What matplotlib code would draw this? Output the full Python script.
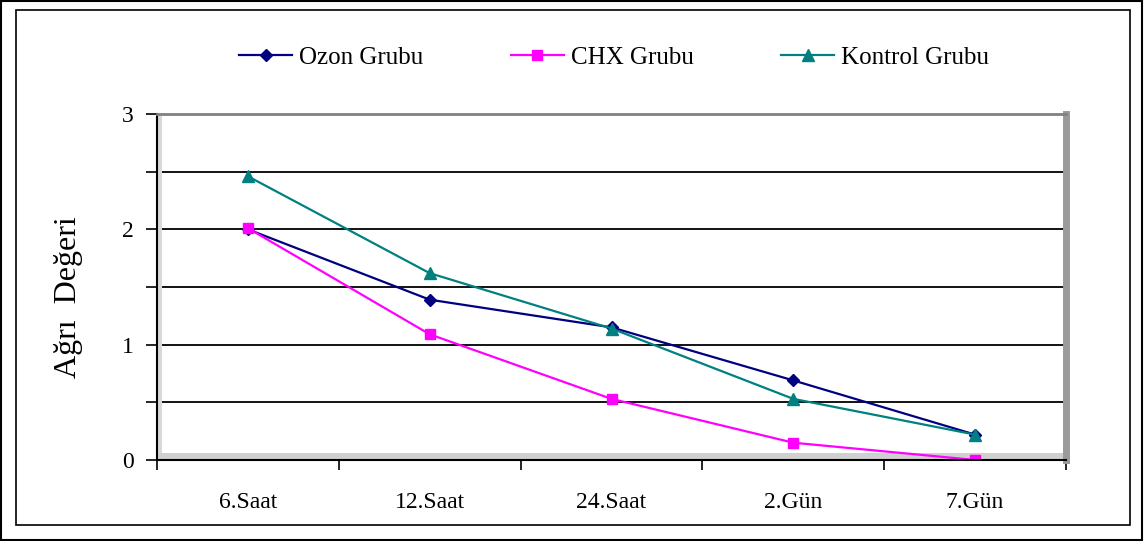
import matplotlib.pyplot as plt
from matplotlib.patches import Rectangle

categories = ["6.Saat", "12.Saat", "24.Saat", "2.Gün", "7.Gün"]
ozon = [2.00, 1.39, 1.15, 0.69, 0.22]
chx = [2.01, 1.09, 0.53, 0.15, 0.00]
kontrol = [2.46, 1.62, 1.14, 0.53, 0.22]

plt.rcParams['font.family'] = ['Liberation Serif', 'DejaVu Serif']

fig = plt.figure(figsize=(11.44, 5.41), dpi=100)
# outer double frame
fig.patches.append(Rectangle((0.001, 0.002), 0.997, 0.996, transform=fig.transFigure,
                             fill=False, edgecolor='black', lw=1.5))
fig.patches.append(Rectangle((16/1144, 16/541), 1114/1144, 515/541, transform=fig.transFigure,
                             fill=False, edgecolor='black', lw=1.2))

ax = fig.add_axes([157/1144, 81/541, 909/1144, 346/541])
x = list(range(len(categories)))

ax.plot(x, ozon, color='#000080', marker='D', markersize=6, lw=1.6, label='Ozon Grubu')
ax.plot(x, chx, color='#FF00FF', marker='s', markersize=7, lw=1.6, label='CHX Grubu')
ax.plot(x, kontrol, color='#008080', marker='^', markersize=8, lw=1.6, label='Kontrol Grubu')

ax.set_xlim(-0.5, 4.5)
ax.set_ylim(0, 3)
ax.set_yticks([0, 0.5, 1, 1.5, 2, 2.5, 3])
ax.set_yticklabels(['0', '', '1', '', '2', '', '3'], fontsize=17)
ax.set_xticks([-0.5, 0.5, 1.5, 2.5, 3.5, 4.5])
ax.set_xticklabels([])
ax.set_xticks(x, minor=True)
ax.set_xticklabels(categories, minor=True, fontsize=17)
ax.tick_params(axis='x', which='minor', length=0, pad=23)
ax.tick_params(axis='x', which='major', length=7, width=1.2, direction='out')
ax.tick_params(axis='y', length=8, width=1.2, direction='out', pad=9)

for yv in [0.5, 1, 1.5, 2, 2.5]:
    ax.axhline(yv, color='black', lw=1.3, zorder=0)

ax.spines['left'].set_linewidth(1.5)
ax.spines['bottom'].set_linewidth(1.5)
ax.spines['top'].set_color('#808080')
ax.spines['top'].set_linewidth(2)
ax.spines['right'].set_color('#9a9a9a')
ax.spines['right'].set_linewidth(5)
# inner shadow bands
ax.add_patch(Rectangle((-0.5, 0), 0.03, 3, color='#d8d8d8', lw=0, zorder=0))
ax.add_patch(Rectangle((-0.5, 0), 5, 0.06, color='#d0d0d0', lw=0, zorder=0))

ax.set_ylabel('Ağrı  Değeri', fontsize=23)
ax.yaxis.set_label_coords(-0.081, 0.47)

fig.legend(loc='center', bbox_to_anchor=(0.537, 0.893), ncol=3, frameon=False,
           fontsize=18, handlelength=2.1, columnspacing=3.5, handletextpad=0.3)

fig.savefig('out.png', dpi=100)
